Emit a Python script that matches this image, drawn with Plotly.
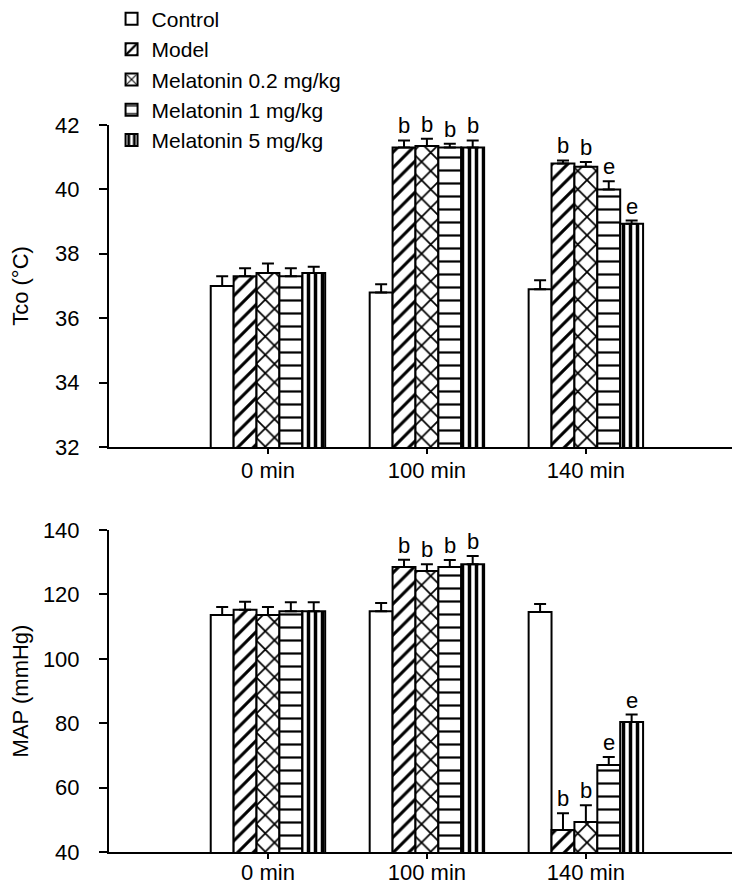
import plotly.graph_objects as go
from plotly.subplots import make_subplots

# ---- data ----
time_labels = ["0 min", "100 min", "140 min"]
groups = ["Control", "Model", "Melatonin 0.2 mg/kg", "Melatonin 1 mg/kg", "Melatonin 5 mg/kg"]

tco_control = [37.0, 36.8, 36.9]
tco_model = [37.3, 41.3, 40.8]
tco_mel02 = [37.4, 41.35, 40.7]
tco_mel1 = [37.3, 41.3, 40.0]
tco_mel5 = [37.4, 41.3, 38.93]

tco_err_control = [0.3, 0.25, 0.28]
tco_err_model = [0.25, 0.22, 0.1]
tco_err_mel02 = [0.3, 0.22, 0.15]
tco_err_mel1 = [0.25, 0.12, 0.25]
tco_err_mel5 = [0.2, 0.22, 0.1]

map_control = [113.6, 114.8, 114.5]
map_model = [115.2, 128.5, 46.8]
map_mel02 = [113.6, 127.3, 49.3]
map_mel1 = [114.8, 128.5, 67.0]
map_mel5 = [114.8, 129.4, 80.4]

map_err_control = [2.5, 2.5, 2.5]
map_err_model = [2.5, 2.3, 5.2]
map_err_mel02 = [2.5, 2.1, 5.2]
map_err_mel1 = [2.8, 2.2, 2.5]
map_err_mel5 = [2.8, 2.5, 2.3]

# significance letters ("" = none)
tco_sig = [
    ["", "", ""],
    ["", "b", "b"],
    ["", "b", "b"],
    ["", "b", "e"],
    ["", "b", "e"],
]
map_sig = [
    ["", "", ""],
    ["", "b", "b"],
    ["", "b", "b"],
    ["", "b", "e"],
    ["", "b", "e"],
]

tco_vals = [tco_control, tco_model, tco_mel02, tco_mel1, tco_mel5]
tco_errs = [tco_err_control, tco_err_model, tco_err_mel02, tco_err_mel1, tco_err_mel5]
map_vals = [map_control, map_model, map_mel02, map_mel1, map_mel5]
map_errs = [map_err_control, map_err_model, map_err_mel02, map_err_mel1, map_err_mel5]

# ---- styles ----
FONT = "Liberation Sans"
FS = 22
patterns = [
    dict(shape=""),
    dict(shape="/", size=11, solidity=0.28, fgcolor="black", bgcolor="white", fgopacity=1),
    dict(shape="x", size=13, solidity=0.25, fgcolor="black", bgcolor="white", fgopacity=1),
    dict(shape="-", size=13, solidity=0.17, fgcolor="black", bgcolor="white", fgopacity=1),
    dict(shape="|", size=7, solidity=0.5, fgcolor="black", bgcolor="white", fgopacity=1),
]

x_pos = list(range(len(time_labels)))
bargap = 0.28
bar_w = (1 - bargap) / len(groups)

fig = make_subplots(rows=2, cols=1)

for row, (vals, errs, sigs) in enumerate([(tco_vals, tco_errs, tco_sig), (map_vals, map_errs, map_sig)], start=1):
    for j, name in enumerate(groups):
        fig.add_trace(
            go.Bar(
                x=x_pos,
                y=vals[j],
                name=name,
                legendgroup=name,
                showlegend=(row == 1),
                marker=dict(color="white", line=dict(color="black", width=2), pattern=patterns[j]),
                error_y=dict(type="data", array=errs[j], arrayminus=[0] * len(errs[j]),
                             symmetric=False, color="black", thickness=2, width=6),
            ),
            row=row, col=1,
        )
        for i in x_pos:
            if sigs[j][i]:
                fig.add_annotation(
                    x=i + (j - (len(groups) - 1) / 2) * bar_w,
                    y=vals[j][i] + errs[j][i],
                    text=sigs[j][i], showarrow=False, yanchor="bottom",
                    font=dict(family=FONT, size=FS, color="black"),
                    row=row, col=1,
                )

axis_common = dict(showline=True, linecolor="black", linewidth=2, ticks="outside",
                   tickwidth=2, tickcolor="black", showgrid=False, zeroline=False,
                   tickfont=dict(family=FONT, size=FS, color="black"))

fig.update_xaxes(**axis_common, range=[-1, 3.02], tickvals=x_pos, ticktext=time_labels,
                 ticklen=5, domain=[0, 1])
fig.update_xaxes(ticklabelstandoff=-2, row=1, col=1)
fig.update_xaxes(ticklabelstandoff=-5, row=2, col=1)
fig.update_yaxes(**axis_common, ticklen=8, ticklabelstandoff=15)

fig.update_yaxes(range=[32, 42], dtick=2, domain=[0.4799, 0.8614], row=1, col=1,
                 title=dict(text="Tco (°C)", font=dict(family=FONT, size=FS, color="black"), standoff=20))
fig.update_yaxes(range=[40, 140], dtick=20, domain=[0, 0.3815], row=2, col=1,
                 title=dict(text="MAP (mmHg)", font=dict(family=FONT, size=FS, color="black"), standoff=20))

fig.update_layout(
    width=740, height=876,
    barmode="group", bargap=bargap, bargroupgap=0,
    paper_bgcolor="white", plot_bgcolor="white",
    margin=dict(l=101, r=0, t=0, b=32, autoexpand=False),
    font=dict(family=FONT, size=FS, color="black"),
    legend=dict(x=0.004, y=1.011, xanchor="left", yanchor="top", bgcolor="rgba(0,0,0,0)",
                font=dict(family=FONT, size=21, color="black"), tracegroupgap=0),
)

fig.write_html("out.html")
